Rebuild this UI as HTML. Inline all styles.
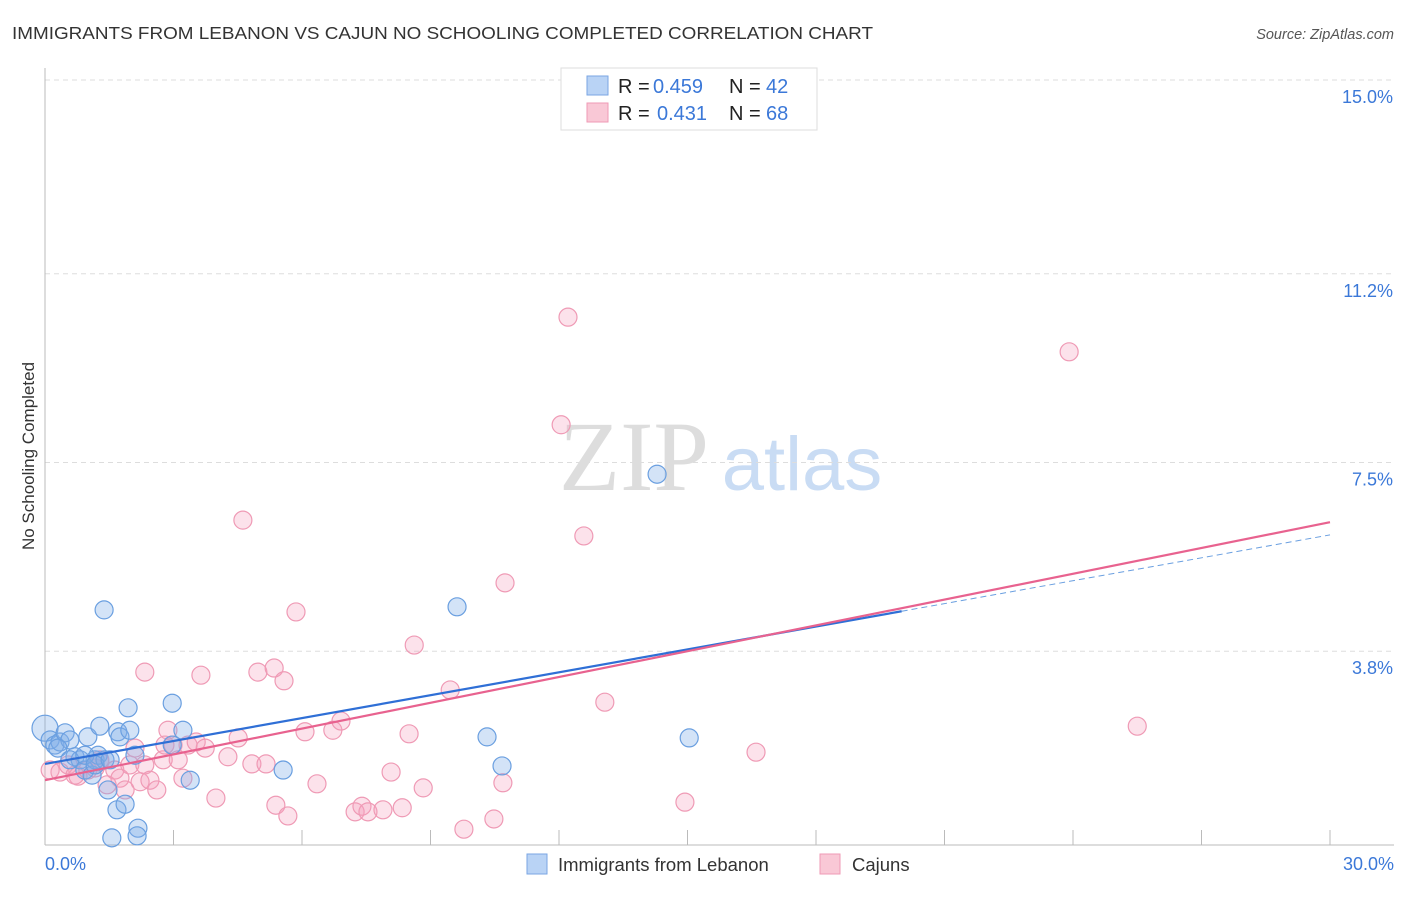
<!DOCTYPE html>
<html><head><meta charset="utf-8"><style>
body{margin:0;background:#fff;font-family:"Liberation Sans",sans-serif;}
</style></head><body>
<svg width="1406" height="892" xmlns="http://www.w3.org/2000/svg" id="svg">
<text x="12" y="39" font-size="17.5" fill="#333" textLength="861" lengthAdjust="spacingAndGlyphs">IMMIGRANTS FROM LEBANON VS CAJUN NO SCHOOLING COMPLETED CORRELATION CHART</text>
<text x="1394" y="39" font-size="14.5" fill="#555" font-style="italic" text-anchor="end">Source: ZipAtlas.com</text>
<text x="34" y="456" font-size="17" fill="#333" text-anchor="middle" transform="rotate(-90 34 456)">No Schooling Completed</text>
<g>
<text x="634" y="490" font-size="100" fill="#ddd" font-family="Liberation Serif" text-anchor="middle">ZIP</text>
<text x="802" y="490" font-size="76" fill="#c9dcf4" text-anchor="middle">atlas</text>
</g>
<g id="grid"></g>
<g id="pts"></g>
<g id="lines"></g>
<g>
<rect x="561" y="68" width="256" height="62" fill="#fff" stroke="#ddd"/>
<rect x="587" y="76" width="21" height="19" fill="#b9d3f5" stroke="#7aa6e3"/>
<rect x="587" y="103" width="21" height="19" fill="#f9c8d6" stroke="#ef9ab5"/>
<text x="618" y="93" font-size="20" fill="#222">R =</text>
<text x="653" y="93" font-size="20" fill="#3b78d8">0.459</text>
<text x="729" y="93" font-size="20" fill="#222">N =</text>
<text x="766" y="93" font-size="20" fill="#3b78d8">42</text>
<text x="618" y="120" font-size="20" fill="#222">R =</text>
<text x="657" y="120" font-size="20" fill="#3b78d8">0.431</text>
<text x="729" y="120" font-size="20" fill="#222">N =</text>
<text x="766" y="120" font-size="20" fill="#3b78d8">68</text>
</g>
<g>
<rect x="527" y="854" width="20" height="20" fill="#b9d3f5" stroke="#7aa6e3"/>
<text x="558" y="871" font-size="18.5" fill="#333">Immigrants from Lebanon</text>
<rect x="820" y="854" width="20" height="20" fill="#f9c8d6" stroke="#ef9ab5"/>
<text x="852" y="871" font-size="18.5" fill="#333">Cajuns</text>
</g>
<text x="45" y="870" font-size="18" fill="#3b78d8">0.0%</text>
<text x="1394" y="870" font-size="18" fill="#3b78d8" text-anchor="end">30.0%</text>
</svg>
<script>
const yTicks=[15.0,11.2,7.5,3.8];
const yTickLabels=["15.0%","11.2%","7.5%","3.8%"];
const xTicks=[0,3,6,9,12,15,18,21,24,27,30];
const blueX=[0.00,0.12,0.23,0.35,0.47,0.58,0.70,0.82,1.00,0.93,1.10,1.17,1.28,1.24,1.40,1.47,1.38,1.70,1.75,1.68,1.87,1.94,1.98,2.10,2.17,2.15,1.56,2.97,2.97,3.22,3.39,5.56,9.62,10.32,10.67,14.29,15.04,0.30,0.58,0.93,1.17,1.52];
const blueY=[2.29,2.06,1.96,2.02,2.20,2.06,1.73,1.67,2.12,1.47,1.37,1.67,2.33,1.76,1.67,1.08,4.61,2.22,2.12,0.69,0.80,2.69,2.25,1.76,0.33,0.18,0.14,2.78,1.96,2.25,1.27,1.47,4.67,2.12,1.55,7.27,2.10,1.90,1.67,1.76,1.57,1.67];
const pinkX=[0.12,0.35,0.54,0.77,1.00,1.17,1.28,1.45,1.63,1.75,1.87,1.98,2.10,2.22,2.33,2.45,2.61,2.76,2.87,2.99,3.11,3.22,3.34,3.53,3.74,3.64,2.33,3.99,4.27,4.51,4.62,4.83,4.97,5.16,5.35,5.39,5.58,5.67,5.86,6.07,6.35,6.72,6.91,7.24,7.40,7.54,7.89,8.08,8.34,8.50,8.62,8.83,9.46,9.78,10.48,10.69,10.74,12.05,12.21,12.58,13.07,14.94,16.60,23.91,25.50,1.28,0.70,2.80];
const pinkY=[1.47,1.43,1.57,1.35,1.47,1.51,1.63,1.18,1.47,1.31,1.08,1.57,1.90,1.24,1.57,1.27,1.08,1.67,2.25,1.96,1.67,1.31,1.96,2.02,1.90,3.33,3.39,0.92,1.73,2.10,6.37,1.59,3.39,1.59,3.47,0.78,3.22,0.57,4.57,2.22,1.20,2.25,2.43,0.65,0.76,0.65,0.69,1.43,0.73,2.18,3.92,1.12,3.04,0.31,0.51,1.22,5.14,8.24,10.35,6.06,2.80,0.84,1.82,9.67,2.33,1.67,1.37,1.96];
const blueTrend=[1.59,6.08];
const pinkTrend=[1.27,6.33];
const NS="http://www.w3.org/2000/svg";
const X=v=>45+v*(1285/30);
const Y=v=>845-v*(765/15);
function mk(t,a,p){const e=document.createElementNS(NS,t);for(const k in a)e.setAttribute(k,a[k]);p.appendChild(e);return e;}
const grid=document.getElementById('grid');
yTicks.forEach((t,i)=>{
 const l=mk('line',{x1:45,x2:1394,y1:Y(t),y2:Y(t),stroke:'#ddd','stroke-dasharray':'5,4'},grid);
 
 
 const tx=mk('text',{x:1393,y:Y(t)+23,'font-size':18,fill:'#3b78d8','text-anchor':'end'},grid);
 tx.textContent=yTickLabels[i];
 
 
});
const ax=mk('line',{x1:45,x2:1394,y1:845,y2:845,stroke:'#bbb'},grid);


const ay=mk('line',{x1:45,x2:45,y1:68,y2:845,stroke:'#bbb'},grid);


xTicks.forEach(t=>{
 const l=mk('line',{x1:X(t),x2:X(t),y1:830,y2:845,stroke:'#bbb'},grid);
 
 
});
const pts=document.getElementById('pts');
pinkX.forEach((x,i)=>{
 const c=mk('circle',{cx:X(x),cy:Y(pinkY[i]),r:9,fill:'rgba(244,160,188,0.3)',stroke:'#ef9ab5','stroke-width':1.2},pts);
 
 
});
blueX.forEach((x,i)=>{
 const c=mk('circle',{cx:X(x),cy:Y(blueY[i]),r:i===0?13:9,fill:'rgba(130,175,232,0.35)',stroke:'#6a9fe0','stroke-width':1.2},pts);
 
 
});
const lines=document.getElementById('lines');
const bx=(v)=>blueTrend[0]+(blueTrend[1]-blueTrend[0])*v/30;
const b1=mk('line',{x1:X(0),y1:Y(bx(0)),x2:X(20),y2:Y(bx(20)),stroke:'#2f6fd6','stroke-width':2.2},lines);


const b2=mk('line',{x1:X(20),y1:Y(bx(20)),x2:X(30),y2:Y(bx(30)),stroke:'#6a9fe0','stroke-width':1,'stroke-dasharray':'6,4'},lines);


const p1=mk('line',{x1:X(0),y1:Y(pinkTrend[0]),x2:X(30),y2:Y(pinkTrend[1]),stroke:'#e8628f','stroke-width':2.2},lines);


</script>
</body></html>
